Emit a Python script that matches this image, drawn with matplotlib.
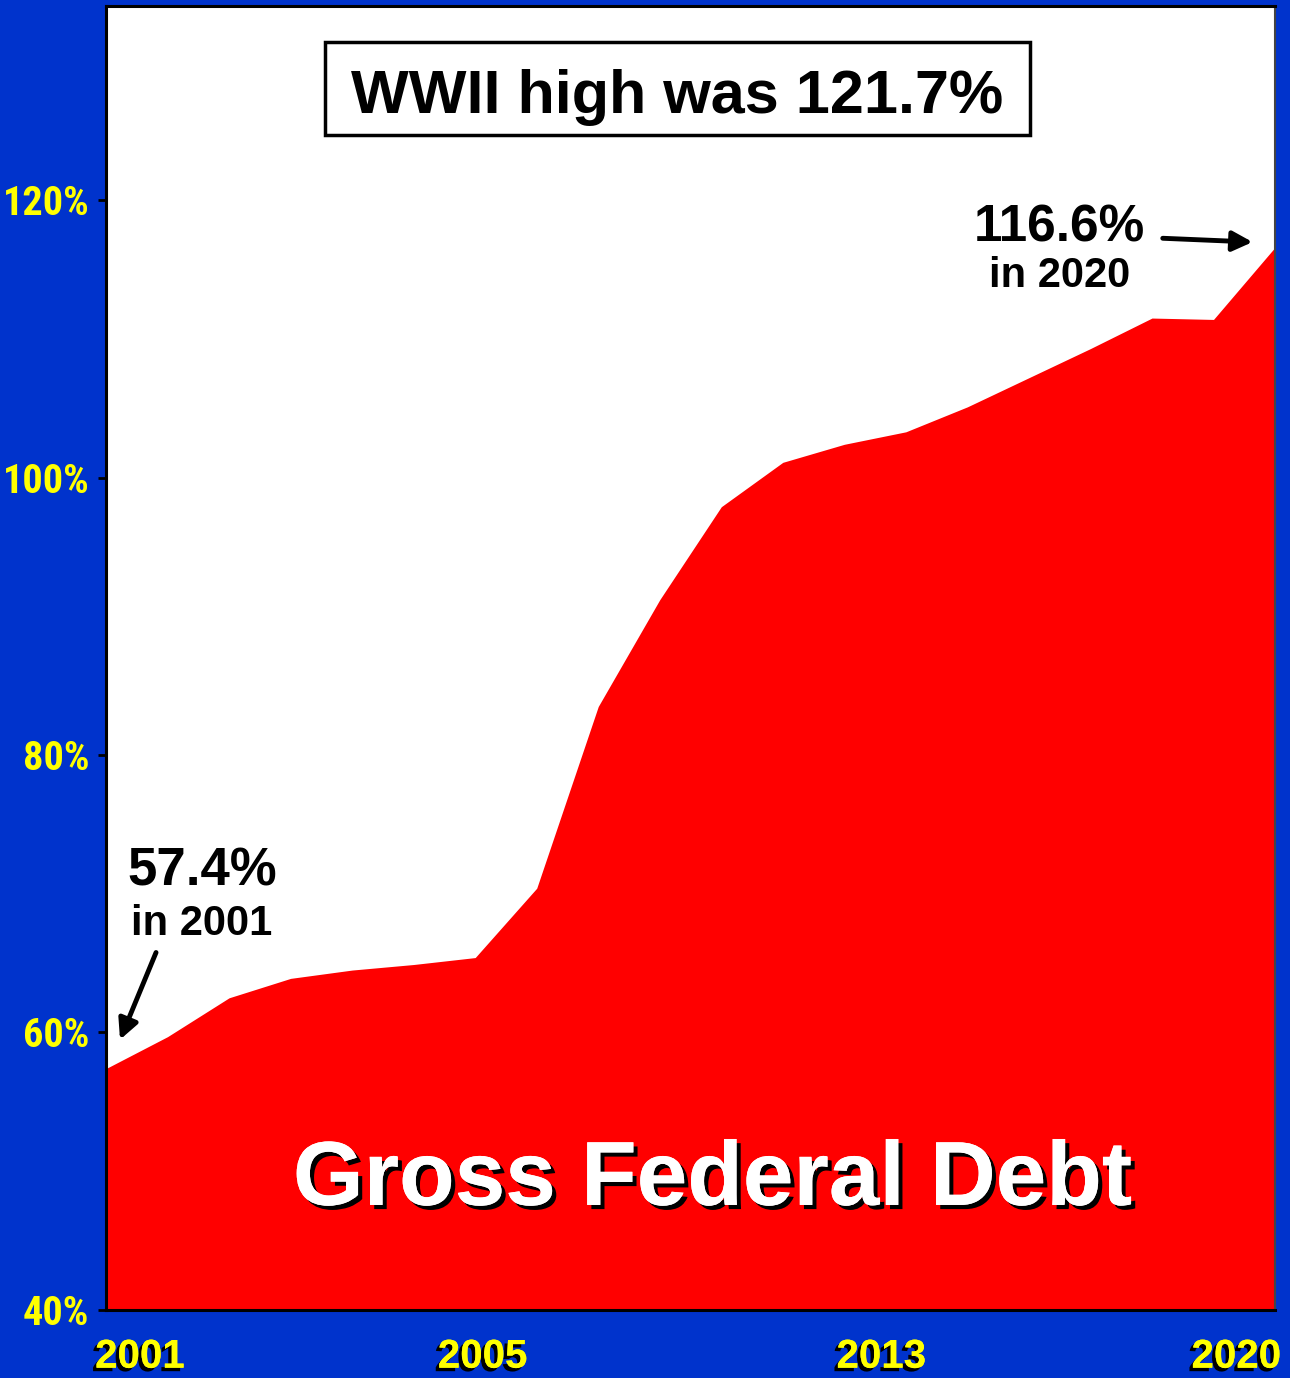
import matplotlib.pyplot as plt
import matplotlib.patheffects as pe
from matplotlib.patches import Rectangle

years = list(range(2001, 2021))
debt = [57.4, 59.7, 62.5, 63.9, 64.5, 64.9, 65.4, 70.4, 83.5, 91.2,
        97.9, 101.1, 102.4, 103.3, 105.1, 107.2, 109.3, 111.5, 111.4, 116.6]

y_ticks = [40, 60, 80, 100, 120]
y_labels = ['40%', '60%', '80%', '100%', '120%']
x_label_pos = [2001.55, 2007.12, 2013.6, 2019.37]
x_labels = ['2001', '2005', '2013', '2020']

BLUE = '#0033cc'
RED = '#ff0000'
YELLOW = '#ffff00'

plt.rcParams['font.family'] = ['Liberation Sans', 'DejaVu Sans']

fig = plt.figure(figsize=(12.9, 13.78), dpi=100, facecolor=BLUE)
ax = fig.add_axes([0.0822, 0.0494, 0.9062, 0.9463])
ax.set_facecolor('white')

ax.fill_between(years, debt, 40, color=RED, linewidth=0)
ax.set_xlim(2001, 2020)
ax.set_ylim(40, 134)

for s in ['left', 'top', 'bottom']:
    ax.spines[s].set_linewidth(2.2)
    ax.spines[s].set_color('black')
ax.spines['right'].set_linewidth(1.5)
ax.spines['right'].set_color('#444444')

ax.set_yticks(y_ticks)
ax.set_yticklabels(y_labels, family=['Roboto Condensed', 'Liberation Sans'],
                   fontweight='bold', color=YELLOW, fontsize=29)
ax.tick_params(axis='y', direction='out', length=6, width=2, color='black', pad=6)

ax.set_xticks(x_label_pos)
ax.set_xticklabels(x_labels, fontsize=29, fontweight='bold', color=YELLOW)
ax.tick_params(axis='x', length=0, pad=20)
shadow = [pe.withSimplePatchShadow(offset=(-2.5, -2.5), shadow_rgbFace='black', alpha=1), pe.Normal()]
for lbl in ax.get_xticklabels():
    lbl.set_path_effects(shadow)

# title box
ax.add_patch(Rectangle((0.1873, 0.9011), 0.6031, 0.0713, transform=ax.transAxes,
                       fill=False, edgecolor='black', linewidth=2.5, zorder=5))
ax.text(0.4885, 0.918, 'WWII high was 121.7%', transform=ax.transAxes,
        ha='center', va='baseline', fontsize=44, fontweight='bold', zorder=6)

ax.text(2016.5, 117.04, '116.6%', ha='center', va='baseline', fontsize=37, fontweight='bold')
ax.text(2016.5, 113.73, 'in 2020', ha='center', va='baseline', fontsize=30, fontweight='bold')
ax.annotate('', xy=(2019.68, 116.97), xytext=(2018.13, 117.26),
            arrowprops=dict(arrowstyle='-|>', color='black', lw=3.5, mutation_scale=30))

ax.text(2002.56, 70.63, '57.4%', ha='center', va='baseline', fontsize=38, fontweight='bold')
ax.text(2002.55, 67.03, 'in 2001', ha='center', va='baseline', fontsize=30, fontweight='bold')
ax.annotate('', xy=(2001.21, 59.3), xytext=(2001.83, 65.95),
            arrowprops=dict(arrowstyle='-|>', color='black', lw=3.5, mutation_scale=30))

ax.text(2010.86, 47.57, 'Gross Federal Debt', ha='center', va='baseline', fontsize=65.5,
        fontweight='bold', color='white',
        path_effects=[pe.withSimplePatchShadow(offset=(3, -3), shadow_rgbFace='black', alpha=1),
                      pe.Normal()])

fig.savefig('out.png', dpi=100, facecolor=BLUE)
